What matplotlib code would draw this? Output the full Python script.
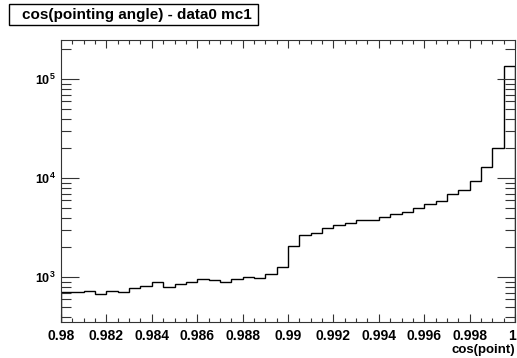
import matplotlib.pyplot as plt
import numpy as np
from matplotlib.patches import Rectangle
from matplotlib.transforms import ScaledTranslation
from matplotlib.ticker import LogLocator, MultipleLocator, NullFormatter

plt.rcParams['font.family'] = ['Liberation Sans', 'DejaVu Sans']
plt.rcParams['font.weight'] = 'bold'

# 40 bins from 0.98 to 1.0, counts
bin_edges = np.linspace(0.98, 1.0, 41)
counts = [705, 705, 721, 684, 721, 705, 784, 822, 902, 797,
          861, 902, 954, 932, 902, 968, 1000, 977, 1073, 1263,
          2046, 2667, 2818, 3111, 3373, 3533, 3818, 3818, 4093, 4363,
          4571, 4970, 5543, 5951, 6965, 7643, 9350, 13100, 20400, 135500]
x_ticks = [0.98, 0.982, 0.984, 0.986, 0.988, 0.99, 0.992, 0.994, 0.996, 0.998, 1.0]
x_labels = ["0.98", "0.982", "0.984", "0.986", "0.988", "0.99",
            "0.992", "0.994", "0.996", "0.998", "1"]

W, H = 517, 358
fig = plt.figure(figsize=(W / 100, H / 100), dpi=100)
ax = fig.add_axes([61 / W, 1 - 322 / H, 454 / W, 282.5 / H])

ax.stairs(counts, bin_edges, color='black', linewidth=1.0)
ax.set_yscale('log')
ax.set_xlim(0.98, 1.0)
ax.set_ylim(353, 2.52e5)

ax.set_xticks(x_ticks)
ax.set_xticklabels(x_labels)
ax.xaxis.set_minor_locator(MultipleLocator(0.0005))
ax.yaxis.set_major_locator(LogLocator(base=10))
ax.yaxis.set_minor_locator(LogLocator(base=10, subs=np.arange(2, 10)))
ax.yaxis.set_minor_formatter(NullFormatter())

ax.tick_params(which='both', direction='in', top=True, right=True,
               width=0.8, colors='#333333', labelcolor='black')
ax.tick_params(axis='x', which='major', length=6, pad=5, labelsize=10)
ax.tick_params(axis='x', which='minor', length=3)
ax.tick_params(axis='y', which='major', length=13, pad=4, labelsize=9)
ax.tick_params(axis='y', which='minor', length=7)
for lab in ax.get_xticklabels() + ax.get_yticklabels():
    lab.set_fontweight('bold')
# keep the last "1" inside the picture
last = ax.get_xticklabels()[-1]
last.set_transform(last.get_transform() + ScaledTranslation(-3 / 100, 0, fig.dpi_scale_trans))
for s in ax.spines.values():
    s.set_color('#333333')
    s.set_linewidth(0.8)

ax.set_xlabel('cos(point)', fontsize=9.5, fontweight='bold', loc='right', labelpad=1)

# title box, drawn in figure pixels
fig.patches.append(Rectangle((8.5 / W, 1 - 25 / H), 249.5 / W, 21 / H,
                             transform=fig.transFigure, facecolor='white',
                             edgecolor='black', linewidth=1))
fig.text(21.5 / W, 1 - 15 / H, 'cos(pointing angle) - data0 mc1', fontsize=11,
         fontweight='bold', va='center', ha='left')

fig.savefig('out.png', dpi=100)
